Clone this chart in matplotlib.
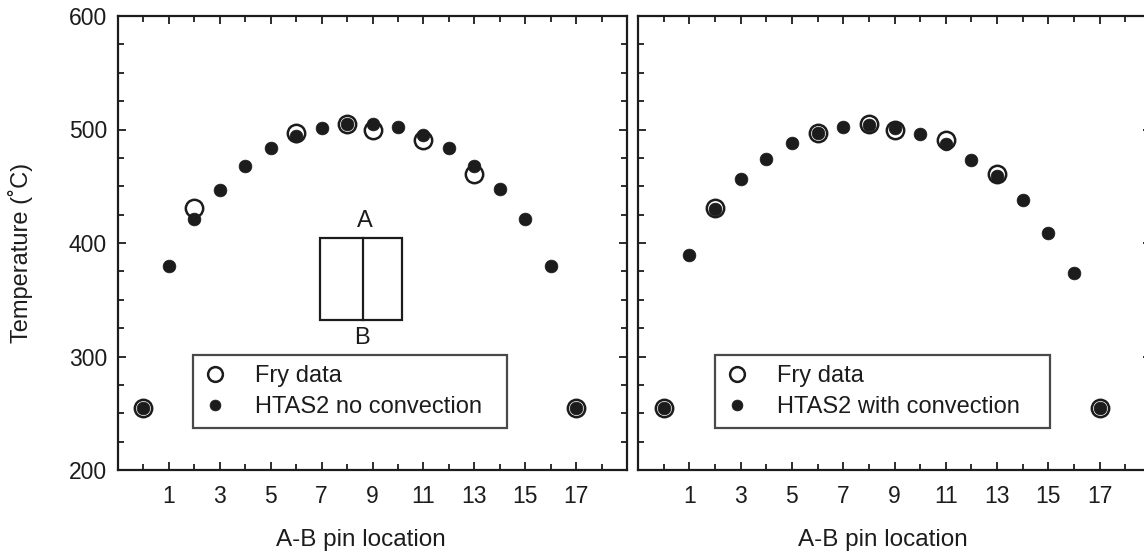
import matplotlib
matplotlib.use("Agg")
import matplotlib.pyplot as plt
from matplotlib.ticker import MultipleLocator, FixedLocator
from matplotlib.patches import Rectangle

plt.rcParams['font.family'] = ['Liberation Sans', 'DejaVu Sans']

# ---- data ----
pins = list(range(0, 18))
htas_no_conv = [255, 380, 421, 447, 468, 484, 494, 501, 505, 505,
                502, 495, 484, 468, 448, 421, 380, 255]
htas_with_conv = [255, 389, 430, 456, 474, 488, 497, 502, 504, 501,
                  496, 487, 473, 459, 438, 409, 374, 255]
fry_pins = [0, 2, 6, 8, 9, 11, 13, 17]
fry_temps = [255, 431, 497, 505, 500, 491, 461, 255]
xtick_labels = ['1', '3', '5', '7', '9', '11', '13', '15', '17']
xtick_pos = [1, 3, 5, 7, 9, 11, 13, 15, 17]
panel_labels = ['HTAS2 no convection', 'HTAS2 with convection']

INK = '#1c1c1c'
FS = 17
W, H = 1144, 551
fig = plt.figure(figsize=(W / 100, H / 100), dpi=100)

def px_axes(x0, x1, ytop, ybot):
    return fig.add_axes([x0 / W, (H - ybot) / H, (x1 - x0) / W, (ybot - ytop) / H])

ax1 = px_axes(118, 627, 16, 470)
ax2 = px_axes(638, 1151, 16, 470)

for ax, sim, lab in [(ax1, htas_no_conv, panel_labels[0]), (ax2, htas_with_conv, panel_labels[1])]:
    ax.set_xlim(-1, 19)
    ax.set_ylim(200, 600)
    ax.plot(fry_pins, fry_temps, linestyle='none', marker='o', markersize=12.5,
            markerfacecolor='white', markeredgecolor=INK, markeredgewidth=1.8,
            label='Fry data', zorder=3)
    ax.plot(pins, sim, linestyle='none', marker='o', markersize=9.2,
            markerfacecolor=INK, markeredgecolor=INK, markeredgewidth=0.5,
            label=lab, zorder=4)
    ax.xaxis.set_major_locator(FixedLocator(xtick_pos))
    ax.set_xticklabels(xtick_labels)
    ax.xaxis.set_minor_locator(MultipleLocator(1))
    ax.yaxis.set_major_locator(MultipleLocator(100))
    ax.yaxis.set_minor_locator(MultipleLocator(25))
    ax.tick_params(which='both', direction='in', top=True, right=True,
                   color=INK, width=1.3, labelsize=16.5, labelcolor=INK)
    ax.tick_params(axis='x', which='both', pad=11)
    ax.tick_params(axis='y', which='both', pad=8)
    ax.tick_params(which='major', length=6)
    ax.tick_params(which='minor', length=4.5)
    for s in ax.spines.values():
        s.set_linewidth(1.6)
        s.set_color(INK)
    ax.set_xlabel('A-B pin location', fontsize=FS + 0.5, color=INK)
    ax.xaxis.set_label_coords(0.478, -0.13)

ax2.set_yticklabels([])
ax1.set_ylabel('Temperature (˚C)', fontsize=FS, color=INK)
ax1.yaxis.set_label_coords(-0.167, 0.478)

# legends
leg_kw = dict(loc='upper left', mode='expand', fontsize=FS, frameon=True, fancybox=False,
              edgecolor=INK, borderpad=0.42, labelspacing=0.38, handletextpad=1.2,
              handlelength=1.0, borderaxespad=0, markerscale=0.85)
l1 = ax1.legend(bbox_to_anchor=(0.147, 0.253, 0.617, 0.0), **leg_kw)
l2 = ax2.legend(bbox_to_anchor=(0.150, 0.253, 0.653, 0.0), **leg_kw)
for l in (l1, l2):
    l.get_frame().set_linewidth(1.6)
    for t in l.get_texts():
        t.set_color(INK)

# A-B pin schematic
ax1.add_patch(Rectangle((6.95, 332), 10.16 - 6.95, 404.4 - 332, fill=False,
                        edgecolor=INK, linewidth=1.6, zorder=2))
ax1.plot([8.61, 8.61], [332, 404.4], color=INK, linewidth=1.6, zorder=2)
ax1.text(8.68, 419, 'A', ha='center', va='center', fontsize=FS, color=INK)
ax1.text(8.58, 316, 'B', ha='center', va='center', fontsize=FS, color=INK)

fig.savefig('out.png', dpi=100, facecolor='white')
